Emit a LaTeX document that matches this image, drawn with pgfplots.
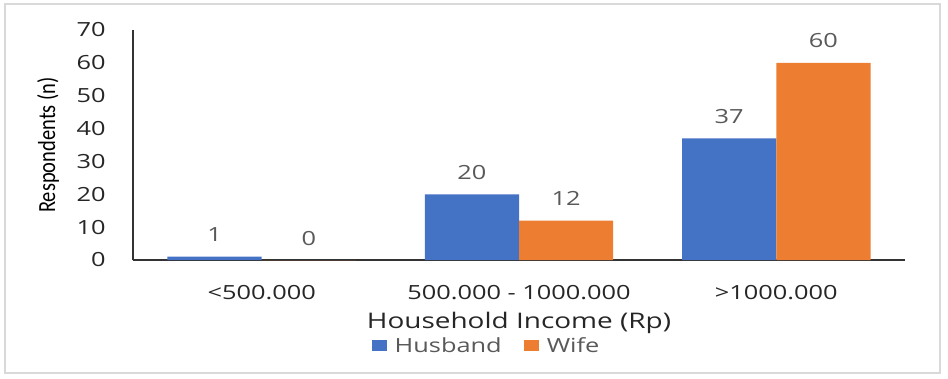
\documentclass[border=0pt]{standalone}
\usepackage{fontspec}
\setmainfont{Open Sans}[FakeStretch=1.3]
\newfontfamily\calfont{Carlito}
\usepackage{graphicx}
\usepackage{pgfplots}
\pgfplotsset{compat=1.18}
\definecolor{cblue}{HTML}{4472C4}
\definecolor{corange}{HTML}{ED7D31}
\definecolor{lblgray}{HTML}{595959}
\definecolor{txt}{HTML}{262626}
\definecolor{frame}{HTML}{D9D9D9}
\newcommand\tf{\fontsize{19.5pt}{23pt}\selectfont}
\begin{document}
\begin{tikzpicture}
\useasboundingbox (-133pt,-118pt) rectangle (815pt,260pt);
\draw[frame, line width=2pt] (-128pt,-113pt) rectangle (807pt,256pt);
\begin{axis}[
  at={(0pt,0pt)}, anchor=south west,
  scale only axis, width=772pt, height=230pt,
  ymin=0, ymax=70, ytick={0,10,...,70},
  xmin=-0.5, xmax=2.5, xtick={0,1,2},
  xticklabels={{<500.000},{500.000 - 1000.000},{>1000.000}},
  axis lines=left,
  axis line style={-, line width=1.2pt, color=black!80},
  tick style={draw=none},
  /pgf/number format/assume math mode=true,
  ybar, bar width=0.366,
  xticklabel style={font=\tf, text=txt, anchor=base, inner sep=0pt, yshift=-35pt},
  yticklabel style={font=\tf, text=txt, anchor=east, inner sep=0pt, xshift=-25pt},
  ylabel={\calfont\fontsize{20.5pt}{24pt}\selectfont\scalebox{1}[1.2]{Respondents (n)}},
  ylabel style={at={(rel axis cs:-0.110,0.5)}, anchor=center, text=black},
  xlabel={Household Income (Rp)},
  xlabel style={at={(rel axis cs:0.5,-0.272)}, anchor=center, font=\fontsize{21.5pt}{25pt}\selectfont, text=txt},
  nodes near coords,
  every node near coord/.append style={font=\tf, text=lblgray, anchor=base, inner sep=0pt, yshift=15pt},
  legend style={draw=none, at={(rel axis cs:0.458,-0.372)}, anchor=center, font=\tf, text=lblgray,
    legend columns=2, /tikz/every even column/.append style={column sep=20pt}},
  legend image code/.code={\fill[#1] (0pt,-5.5pt) rectangle (15pt,5.5pt); \path (21pt,0pt);},
]
\addplot[fill=cblue, draw=none, bar shift=-0.183] coordinates {(0,1) (1,20) (2,37)};
\addplot[fill=corange, draw=none, bar shift=0.183] coordinates {(0,0) (1,12) (2,60)};
\legend{Husband, Wife}
\end{axis}
\end{tikzpicture}
\end{document}
